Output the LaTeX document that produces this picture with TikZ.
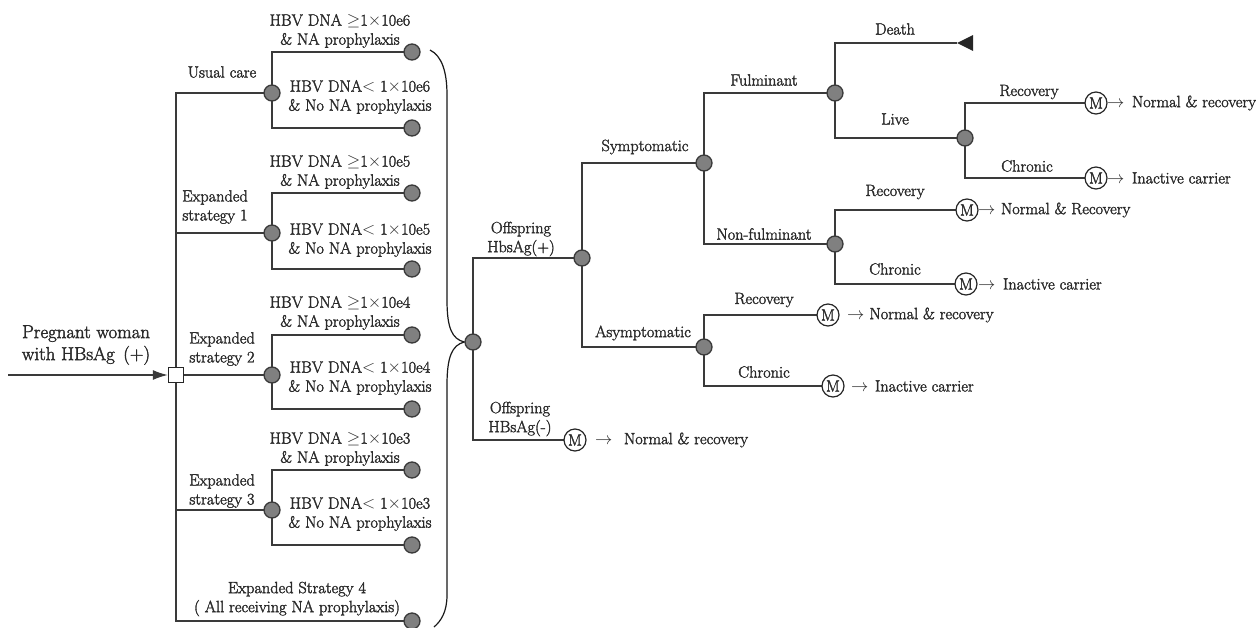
\documentclass[tikz,border=0pt]{standalone}
\usepackage{fontspec}
\setmainfont{Latin Modern Roman}[FakeBold=2]
\usetikzlibrary{arrows.meta}
\pgfdeclarelayer{bg}
\pgfsetlayers{bg,main}
\definecolor{ln}{HTML}{3A3A3A}
\definecolor{tx}{HTML}{2A2A2A}
\definecolor{chf}{HTML}{808080}
\begin{document}
\begin{tikzpicture}[x=1pt,y=-1pt,
  every node/.style={text=tx, font=\fontsize{16.3}{19}\selectfont},
  lbl/.style={inner sep=0pt, align=center},
  chance/.style={circle, draw=ln, fill=chf, line width=1.3pt, minimum size=16pt, inner sep=0pt},
  markov/.style={circle, draw=black!85, fill=white, line width=1.2pt, minimum size=22pt, inner sep=0pt, font=\fontsize{16.3}{15}\selectfont},
  decision/.style={rectangle, draw=black!85, fill=white, line width=1.3pt, minimum size=15pt, inner sep=0pt},
  branch/.style={draw=ln, line width=1.4pt},
  outc/.style={anchor=west, inner sep=0pt},
  bracepath/.style={draw=black!90, line width=1.2pt},
]
\useasboundingbox (0,0) rectangle (1256,627);

% ---------- nodes ----------
\coordinate (In) at (8,375);
\node[decision] (D) at (176,375) {};
\node[chance] (U) at (272,93) {};
\node[chance] (U1) at (412,52) {};
\node[chance] (U2) at (412,128) {};
\node[chance] (E1) at (272,233) {};
\node[chance] (E1a) at (412,193) {};
\node[chance] (E1b) at (412,269) {};
\node[chance] (E2) at (272,375) {};
\node[chance] (E2a) at (412,335) {};
\node[chance] (E2b) at (412,409) {};
\node[chance] (E3) at (272,510) {};
\node[chance] (E3a) at (412,470) {};
\node[chance] (E3b) at (412,545) {};
\node[chance] (E4) at (412,621) {};

\node[chance] (O) at (473,342) {};
\node[chance] (S) at (582,258) {};
\node[markov] (MN) at (575,440) {M};
\node[chance] (Sy) at (704,163) {};
\node[chance] (As) at (704,347) {};
\node[chance] (Fu) at (835,93) {};
\node[chance] (NF) at (835,244) {};
\coordinate (Dt) at (957,43);
\node[chance] (Lv) at (965,138) {};
\node[markov] (M1) at (1096,103) {M};
\node[markov] (M2) at (1096,178) {M};
\node[markov] (M3) at (967,210) {M};
\node[markov] (M4) at (966,284) {M};
\node[markov] (M5) at (828,315) {M};
\node[markov] (M6) at (833,386) {M};

% ---------- connectors ----------
\begin{pgfonlayer}{bg}
\draw[branch] (D.center) |- (U.center);
\draw[branch] (D.center) |- (E1.center);
\draw[branch] (D.center) -- (E2.center);
\draw[branch] (D.center) |- (E3.center);
\draw[branch] (D.center) |- (E4.center);
\draw[branch] (U.center) |- (U1.center);
\draw[branch] (U.center) |- (U2.center);
\draw[branch] (E1.center) |- (E1a.center);
\draw[branch] (E1.center) |- (E1b.center);
\draw[branch] (E2.center) |- (E2a.center);
\draw[branch] (E2.center) |- (E2b.center);
\draw[branch] (E3.center) |- (E3a.center);
\draw[branch] (E3.center) |- (E3b.center);
\draw[branch] (O.center) |- (S.center);
\draw[branch] (O.center) |- (MN.center);
\draw[branch] (S.center) |- (Sy.center);
\draw[branch] (S.center) |- (As.center);
\draw[branch] (Sy.center) |- (Fu.center);
\draw[branch] (Sy.center) |- (NF.center);
\draw[branch] (Fu.center) |- (Dt);
\draw[branch] (Fu.center) |- (Lv.center);
\draw[branch] (Lv.center) |- (M1.center);
\draw[branch] (Lv.center) |- (M2.center);
\draw[branch] (NF.center) |- (M3.center);
\draw[branch] (NF.center) |- (M4.center);
\draw[branch] (As.center) |- (M5.center);
\draw[branch] (As.center) |- (M6.center);
\end{pgfonlayer}
\fill[black!85] (Dt) -- ++(16,-8) -- ++(0,16) -- cycle;
\draw[branch,-{Latex[length=15pt,width=10pt]}] (In) -- (D.west);

% brace
\draw[bracepath] (430,50) .. controls (442,56) and (447,72) .. (447,95) -- (447,300)
  .. controls (447,328) and (452,339) .. (O.west);
\draw[bracepath] (O.west) .. controls (452,345) and (447,357) .. (447,385) -- (447,595)
  .. controls (447,612) and (441,621) .. (434,627);

% ---------- labels ----------
\node[lbl, font=\fontsize{18.8}{22}\selectfont] at (86,345) {Pregnant woman\\with HBsAg\hspace{0.45em}(+)};
\node[lbl] at (222,72) {Usual care};
\node[lbl] at (215,207) {Expanded\\strategy 1};
\node[lbl] at (222,349) {Expanded\\strategy 2};
\node[lbl] at (222,491) {Expanded\\strategy 3};
\node[lbl] at (297,599) {Expanded Strategy 4\\( All receiving NA prophylaxis)};

\node[lbl] at (340,31) {HBV DNA $\geq$1$\times$10e6\\\& NA prophylaxis};
\node[lbl] at (360,97) {HBV DNA$<$ 1$\times$10e6\\\& No NA prophylaxis};
\node[lbl] at (340,172) {HBV DNA $\geq$1$\times$10e5\\\& NA prophylaxis};
\node[lbl] at (360,240) {HBV DNA$<$ 1$\times$10e5\\\& No NA prophylaxis};
\node[lbl] at (340,313) {HBV DNA $\geq$1$\times$10e4\\\& NA prophylaxis};
\node[lbl] at (360,378) {HBV DNA$<$ 1$\times$10e4\\\& No NA prophylaxis};
\node[lbl] at (340,449) {HBV DNA $\geq$1$\times$10e3\\\& NA prophylaxis};
\node[lbl] at (360,514) {HBV DNA$<$ 1$\times$10e3\\\& No NA prophylaxis};

\node[lbl] at (521,239) {Offspring\\HbsAg(+)};
\node[lbl] at (520,419) {Offspring\\HBsAg(-)};
\node[lbl] at (645,147) {Symptomatic};
\node[lbl] at (643,333) {Asymptomatic};
\node[lbl] at (764,80) {Fulminant};
\node[lbl] at (764,234) {Non-fulminant};
\node[lbl] at (764,300) {Recovery};
\node[lbl] at (764,372) {Chronic};
\node[lbl] at (895,29) {Death};
\node[lbl] at (895,119) {Live};
\node[lbl] at (1029,92) {Recovery};
\node[lbl] at (1027,166) {Chronic};
\node[lbl] at (895,192) {Recovery};
\node[lbl] at (895,269) {Chronic};

% outcomes
\node[outc] at (1107,103) {$\rightarrow$\hspace{7.5pt}Normal \& recovery};
\node[outc] at (1107,178) {$\rightarrow$\hspace{7.5pt}Inactive carrier};
\node[outc] at (978,210) {$\rightarrow$\hspace{5.5pt}Normal \& Recovery};
\node[outc] at (978,284) {$\rightarrow$\hspace{7.5pt}Inactive carrier};
\node[outc] at (847,315) {$\rightarrow$\hspace{5pt}Normal \& recovery};
\node[outc] at (851,386) {$\rightarrow$\hspace{6.5pt}Inactive carrier};
\node[outc] at (595,440) {$\rightarrow$\hspace{11.5pt}Normal \& recovery};
\end{tikzpicture}
\end{document}
